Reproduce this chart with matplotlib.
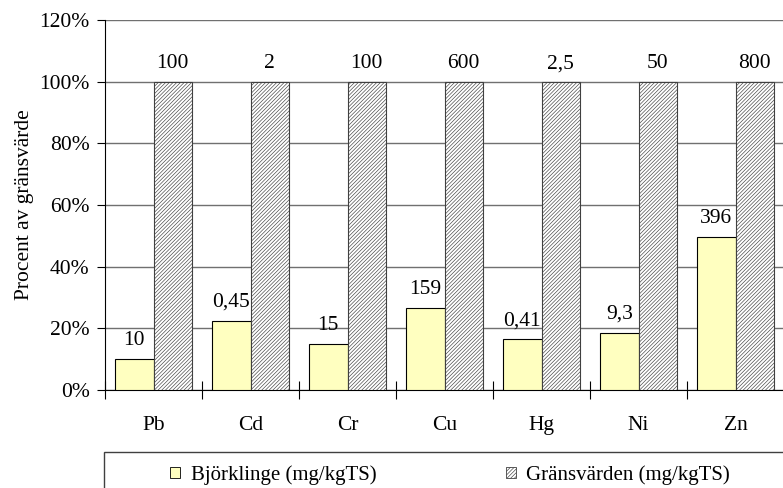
import matplotlib.pyplot as plt
import numpy as np
from matplotlib.patches import Rectangle, Patch

plt.rcParams['font.family'] = ['Liberation Serif', 'DejaVu Serif']
plt.rcParams['hatch.linewidth'] = 0.45

# data: measured values and limit values (mg/kgTS)
metals = ["Pb", "Cd", "Cr", "Cu", "Hg", "Ni", "Zn"]
bjorklinge = [10, 0.45, 15, 159, 0.41, 9.3, 396]
gransvarden = [100, 2, 100, 600, 2.5, 50, 800]

pct_bj = [b / g for b, g in zip(bjorklinge, gransvarden)]
pct_gr = [g / g for g in gransvarden]


def fmt(v):
    return f"{v:g}".replace(".", ",")


fig = plt.figure(figsize=(7.83, 4.88), dpi=100)
ax = fig.add_axes([105 / 783, 1 - 390 / 488, 679 / 783, 370 / 488])

x = np.arange(len(metals))
w = 0.395
fs = 15.5
hatch = "/////////"

ax.bar(x - w / 2, pct_bj, w, color="#FFFFC0", edgecolor="black", linewidth=0.8, zorder=3)
ax.bar(x + w / 2, pct_gr, w, color="white", edgecolor="#404040", hatch=hatch,
       linewidth=0.8, zorder=3)

for i in range(len(metals)):
    ax.annotate(fmt(bjorklinge[i]), (x[i] - w / 2, pct_bj[i]), xytext=(0, 10),
                textcoords="offset points", ha="center", va="baseline", fontsize=fs)
    ax.annotate(fmt(gransvarden[i]), (x[i] + w / 2, pct_gr[i]), xytext=(0, 9.5),
                textcoords="offset points", ha="center", va="baseline", fontsize=fs)

ax.set_xlim(-0.5, len(metals) - 0.5)
ax.set_ylim(0, 1.2)
ax.set_yticks(np.arange(0, 1.21, 0.2))
ax.set_yticklabels([f"{int(round(t * 100))}%" for t in np.arange(0, 1.21, 0.2)], fontsize=fs)
ax.yaxis.grid(True, color="#707070", linewidth=1.0, zorder=0)

ax.set_xticks(np.arange(-0.5, len(metals), 1.0))
ax.set_xticklabels([])
ax.set_xticks(x, minor=True)
ax.set_xticklabels(metals, minor=True, fontsize=fs)
ax.tick_params(axis="x", which="major", direction="inout", length=13, width=0.8)
ax.tick_params(axis="x", which="minor", length=0, pad=19)
ax.tick_params(axis="y", direction="out", length=6, width=0.8, pad=5)

for s in ["top", "right"]:
    ax.spines[s].set_visible(False)
ax.spines["left"].set_linewidth(0.8)
ax.spines["bottom"].set_linewidth(0.8)

ax.set_ylabel("Procent av gränsvärde", fontsize=fs, labelpad=4)

# legend box
fig.patches.append(Rectangle((104 / 783, -0.05), 0.9, 1 - 452 / 488 + 0.05,
                             transform=fig.transFigure, facecolor="white",
                             edgecolor="#404040", linewidth=1.0))
handles = [Patch(facecolor="#FFFFC0", edgecolor="black", linewidth=0.6),
           Patch(facecolor="white", edgecolor="#404040", hatch=hatch, linewidth=0.6)]
fig.legend(handles, ["Björklinge (mg/kgTS)", "Gränsvärden (mg/kgTS)"], ncol=2,
           loc="center left", bbox_to_anchor=(170 / 783, 1 - 475 / 488), frameon=False,
           fontsize=15, handlelength=0.5, handleheight=0.5, handletextpad=0.5,
           columnspacing=6.2, borderpad=0, borderaxespad=0)

fig.savefig("out.png", dpi=100)
